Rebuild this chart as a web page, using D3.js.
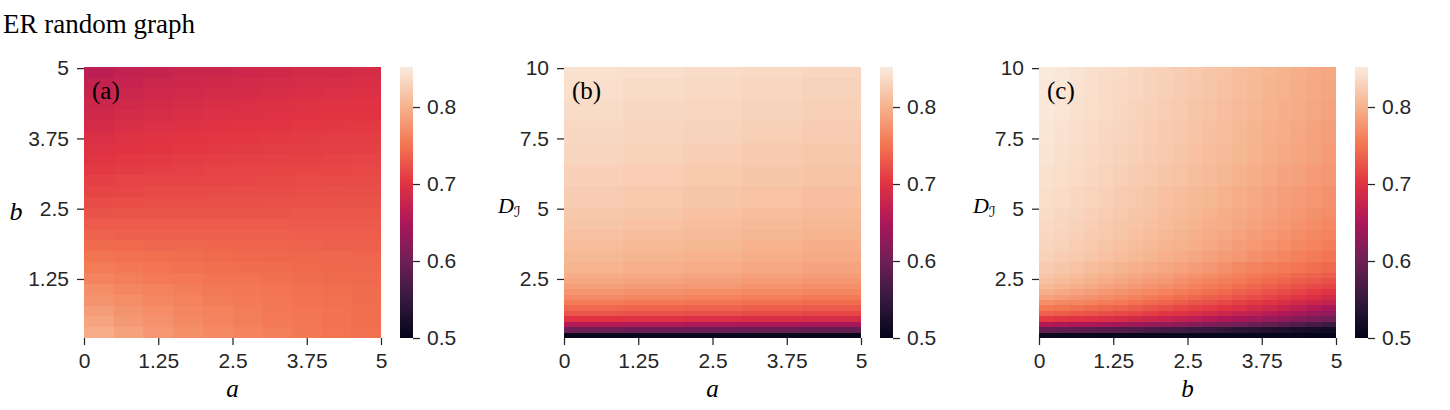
<!DOCTYPE html>
<html><head><meta charset="utf-8">
<script src="https://cdn.jsdelivr.net/npm/d3@7"></script>
<style>body{margin:0;background:#fff;} svg{display:block;}</style>
</head><body><svg id="chart" width="1450" height="410"></svg>
<script>
// ---------------- data ----------------
const title = "ER random graph";
const xTicks = [0, 1.25, 2.5, 3.75, 5];
const bTicks = [1.25, 2.5, 3.75, 5];
const dTicks = [2.5, 5, 7.5, 10];
const cbTicks = [0.5, 0.6, 0.7, 0.8];
const colorRange = [0.5, 0.852];

// cell edges (data units)
const xEdges20 = [0, 0.25, 0.5, 0.75, 1, 1.25, 1.5, 1.75, 2, 2.25, 2.5, 2.75, 3, 3.25, 3.5, 3.75, 4, 4.25, 4.5, 4.75, 5];
const xEdges10 = [0, 0.5, 1, 1.5, 2, 2.5, 3, 3.5, 4, 4.5, 5];
const xEdges5 = [0, 1, 2, 3, 4, 5];
const bEdges = [0.2, 0.393, 0.586, 0.778, 0.971, 1.164, 1.357, 1.55, 1.742, 1.935, 2.128, 2.321, 2.514, 2.706, 2.899, 3.092, 3.285, 3.478, 3.67, 3.863, 4.056, 4.249, 4.442, 4.634, 4.827, 5.02];
const dEdges = [0.4, 0.593, 0.786, 0.978, 1.171, 1.364, 1.557, 1.75, 1.942, 2.135, 2.328, 2.521, 2.714, 3.099, 3.484, 3.87, 4.256, 4.641, 5.027, 5.798, 6.57, 7.341, 8.112, 8.884, 9.655, 10.04];

// (a): rows = b (bottom to top), columns = a
const valuesA = [
 [.796,.786,.778,.772,.767,.762,.758,.754,.750,.747],
 [.789,.780,.774,.768,.763,.759,.755,.752,.749,.746],
 [.783,.776,.770,.765,.761,.757,.754,.751,.749,.746],
 [.776,.770,.765,.761,.757,.755,.752,.749,.747,.745],
 [.770,.765,.761,.757,.754,.752,.750,.748,.746,.744],
 [.763,.759,.755,.753,.750,.749,.747,.745,.743,.742],
 [.756,.753,.750,.748,.746,.745,.744,.742,.741,.740],
 [.750,.748,.746,.745,.743,.742,.741,.741,.740,.739],
 [.743,.742,.740,.740,.739,.738,.738,.737,.736,.736],
 [.737,.736,.736,.736,.735,.735,.735,.734,.734,.734],
 [.731,.731,.731,.731,.731,.731,.731,.731,.731,.731],
 [.725,.726,.726,.726,.727,.727,.727,.728,.728,.728],
 [.720,.721,.722,.722,.723,.723,.724,.724,.725,.725],
 [.715,.716,.718,.718,.719,.720,.720,.721,.722,.722],
 [.711,.713,.714,.715,.716,.717,.718,.719,.719,.720],
 [.706,.708,.710,.711,.713,.714,.715,.715,.716,.717],
 [.702,.704,.706,.708,.709,.710,.711,.712,.713,.714],
 [.697,.700,.702,.704,.705,.707,.708,.709,.710,.711],
 [.694,.697,.699,.701,.703,.704,.706,.707,.708,.709],
 [.689,.692,.695,.697,.699,.701,.702,.704,.705,.706],
 [.684,.688,.690,.693,.695,.696,.698,.699,.701,.702],
 [.680,.684,.687,.690,.692,.694,.696,.697,.699,.700],
 [.675,.679,.683,.685,.688,.689,.691,.693,.695,.696],
 [.671,.675,.679,.682,.684,.686,.688,.690,.691,.693],
 [.665,.670,.674,.677,.679,.682,.684,.686,.687,.690]
];

// (b): rows = D_I (bottom to top), columns = a
const valuesB = [
 [.506,.505,.505,.504,.503],
 [.598,.596,.594,.592,.590],
 [.657,.655,.653,.650,.648],
 [.700,.698,.695,.693,.690],
 [.727,.724,.722,.719,.716],
 [.742,.739,.737,.734,.731],
 [.756,.753,.750,.747,.744],
 [.768,.765,.762,.758,.755],
 [.777,.774,.771,.768,.765],
 [.785,.782,.779,.775,.772],
 [.791,.788,.785,.781,.778],
 [.796,.793,.790,.786,.783],
 [.802,.799,.796,.792,.789],
 [.806,.803,.800,.797,.794],
 [.810,.807,.804,.801,.798],
 [.814,.811,.808,.805,.802],
 [.817,.814,.811,.808,.805],
 [.820,.817,.814,.811,.808],
 [.824,.821,.818,.815,.812],
 [.828,.825,.822,.819,.816],
 [.832,.829,.826,.823,.820],
 [.835,.832,.830,.827,.824],
 [.838,.835,.833,.830,.827],
 [.841,.838,.836,.833,.830],
 [.843,.841,.838,.836,.833]
];

// (c): rows = D_I (bottom to top), columns = b
const valuesC = [
 [.508,.507,.507,.507,.506,.506,.505,.505,.505,.504,.504,.503,.503,.503,.502,.502,.502,.502,.501,.501],
 [.591,.588,.585,.582,.579,.576,.572,.568,.563,.559,.555,.550,.545,.540,.535,.530,.526,.522,.518,.514],
 [.656,.653,.651,.648,.645,.642,.637,.633,.629,.624,.619,.613,.607,.601,.595,.588,.580,.573,.565,.557],
 [.706,.703,.700,.697,.694,.690,.685,.680,.675,.670,.665,.659,.653,.647,.641,.634,.626,.618,.610,.602],
 [.735,.732,.729,.725,.722,.718,.713,.708,.703,.698,.692,.686,.680,.674,.668,.661,.653,.645,.636,.628],
 [.755,.752,.748,.744,.741,.737,.732,.727,.722,.717,.712,.707,.701,.695,.690,.683,.675,.667,.658,.650],
 [.772,.768,.765,.761,.757,.753,.748,.743,.738,.733,.727,.722,.717,.711,.706,.699,.692,.685,.678,.671],
 [.786,.782,.778,.774,.770,.766,.761,.756,.751,.746,.741,.736,.731,.725,.720,.714,.707,.701,.694,.687],
 [.798,.793,.789,.785,.780,.776,.771,.767,.762,.757,.752,.747,.742,.736,.731,.725,.719,.713,.707,.701],
 [.807,.802,.798,.793,.788,.784,.779,.775,.771,.766,.761,.756,.751,.745,.740,.734,.729,.724,.718,.713],
 [.813,.808,.804,.800,.795,.791,.786,.782,.778,.773,.768,.763,.758,.753,.748,.743,.738,.733,.728,.723],
 [.818,.814,.810,.805,.801,.797,.792,.788,.784,.779,.775,.770,.765,.760,.755,.750,.746,.742,.737,.733],
 [.823,.819,.815,.811,.807,.803,.799,.795,.791,.787,.783,.778,.773,.768,.763,.759,.755,.751,.746,.742],
 [.829,.825,.822,.818,.814,.810,.806,.803,.799,.795,.791,.786,.782,.778,.773,.769,.764,.760,.756,.751],
 [.832,.829,.825,.821,.818,.814,.811,.807,.803,.800,.796,.792,.788,.783,.779,.775,.770,.766,.762,.757],
 [.834,.831,.828,.824,.821,.817,.814,.810,.806,.803,.799,.795,.791,.787,.783,.779,.775,.771,.766,.762],
 [.836,.833,.830,.826,.823,.819,.816,.813,.809,.806,.802,.798,.795,.791,.787,.783,.779,.775,.770,.766],
 [.838,.835,.832,.828,.825,.821,.818,.815,.811,.808,.804,.801,.797,.793,.790,.786,.782,.778,.774,.770],
 [.840,.837,.834,.831,.828,.824,.821,.818,.814,.811,.807,.804,.800,.796,.793,.789,.785,.782,.778,.774],
 [.843,.840,.837,.834,.831,.827,.824,.821,.818,.815,.811,.808,.804,.800,.797,.793,.789,.786,.782,.778],
 [.845,.842,.839,.836,.833,.830,.827,.824,.821,.818,.814,.811,.808,.804,.801,.797,.793,.790,.786,.782],
 [.847,.844,.841,.838,.835,.832,.829,.826,.823,.820,.816,.813,.810,.806,.803,.799,.796,.792,.788,.785],
 [.849,.846,.843,.840,.837,.834,.831,.828,.825,.822,.818,.815,.812,.808,.805,.801,.798,.795,.791,.788],
 [.850,.847,.844,.841,.838,.836,.833,.830,.827,.824,.820,.817,.814,.810,.807,.803,.800,.797,.793,.790],
 [.851,.848,.845,.842,.839,.837,.834,.831,.828,.825,.821,.818,.815,.811,.808,.804,.801,.798,.794,.791]
];

// seaborn "rocket" colour map stops
const rocket = ["#03051a","#35193e","#701f57","#ad1759","#e13342","#f37651","#f6b48f","#faebdd"];

// ---------------- drawing ----------------
const svg = d3.select("#chart");
const TOP = 67, BOTTOM = 338, W = 297;
const INK = "#262626";
const SANS = "'Liberation Sans', Arial, sans-serif";
const SERIF = "'Liberation Serif', 'Times New Roman', serif";

const color = d3.scaleLinear()
  .domain(rocket.map((_, i) => colorRange[0] + (colorRange[1] - colorRange[0]) * i / (rocket.length - 1)))
  .range(rocket).interpolate(d3.interpolateRgb).clamp(true);

svg.append("text").attr("x", 3).attr("y", 33)
  .style("font-family", SERIF).style("font-size", "27px").attr("fill", "#000").text(title);

const defs = svg.append("defs");
const grad = defs.append("linearGradient").attr("id", "rocketGrad")
  .attr("x1", 0).attr("y1", 1).attr("x2", 0).attr("y2", 0);
grad.selectAll("stop").data(rocket).join("stop")
  .attr("offset", (d, i) => i / (rocket.length - 1)).attr("stop-color", d => d);

const panels = [
  {label: "(a)", left: 84, xEdges: xEdges10, yEdges: bEdges, yTicks: bTicks, values: valuesA, xLabel: "a", yLabel: "b"},
  {label: "(b)", left: 564, xEdges: xEdges5, yEdges: dEdges, yTicks: dTicks, values: valuesB, xLabel: "a", yLabel: "D"},
  {label: "(c)", left: 1039, xEdges: xEdges20, yEdges: dEdges, yTicks: dTicks, values: valuesC, xLabel: "b", yLabel: "D"}
];

function styleAxis(g) {
  g.select(".domain").remove();
  g.selectAll(".tick line").attr("stroke", INK).attr("stroke-width", 1.25);
  g.selectAll(".tick text").attr("fill", INK).style("font-family", SANS).style("font-size", "21px");
}

panels.forEach(p => {
  const x = d3.scaleLinear().domain([0, 5]).range([p.left, p.left + W]);
  const y = d3.scaleLinear().domain([p.yEdges[0], p.yEdges[p.yEdges.length - 1]]).range([BOTTOM, TOP]);
  const g = svg.append("g");

  const cells = [];
  p.values.forEach((row, j) => row.forEach((v, i) => cells.push({i, j, v})));
  g.append("g").attr("shape-rendering", "crispEdges")
    .selectAll("rect").data(cells).join("rect")
    .attr("x", d => x(p.xEdges[d.i]))
    .attr("width", d => x(p.xEdges[d.i + 1]) - x(p.xEdges[d.i]))
    .attr("y", d => y(p.yEdges[d.j + 1]))
    .attr("height", d => y(p.yEdges[d.j]) - y(p.yEdges[d.j + 1]))
    .attr("fill", d => color(d.v));

  g.append("g").attr("transform", `translate(0,${BOTTOM})`)
    .call(d3.axisBottom(x).tickValues(xTicks).tickSize(7).tickPadding(8).tickFormat(d => String(d)))
    .call(styleAxis);
  g.append("g").attr("transform", `translate(${p.left},0)`)
    .call(d3.axisLeft(y).tickValues(p.yTicks).tickSize(7).tickPadding(8).tickFormat(d => String(d)))
    .call(styleAxis);

  g.append("text").attr("x", p.left + 8).attr("y", 99)
    .style("font-family", SERIF).style("font-size", "25px").attr("fill", "#000").text(p.label);

  g.append("text").attr("x", p.left + W / 2).attr("y", 397).attr("text-anchor", "middle")
    .style("font-family", SERIF).style("font-style", "italic").style("font-size", "25px")
    .attr("fill", "#000").text(p.xLabel);

  if (p.yLabel === "b") {
    g.append("text").attr("x", 16).attr("y", 220).attr("text-anchor", "middle")
      .style("font-family", SERIF).style("font-style", "italic").style("font-size", "26px")
      .attr("fill", "#000").text("b");
  } else {
    const t = g.append("text").attr("x", p.left - 66).attr("y", 213)
      .style("font-family", SERIF).attr("fill", "#000");
    t.append("tspan").style("font-style", "italic").style("font-size", "22px").text("D");
    t.append("tspan").attr("dy", 4).style("font-size", "15px")
      .style("font-family", "'DejaVu Serif', 'DejaVu Sans', serif").style("font-style", "italic").text("ℐ");
  }

  // colour bar
  const cbLeft = p.left + 316, cbW = 13;
  const cy = d3.scaleLinear().domain(colorRange).range([BOTTOM, TOP]);
  g.append("rect").attr("x", cbLeft).attr("y", TOP).attr("width", cbW).attr("height", BOTTOM - TOP)
    .attr("fill", "url(#rocketGrad)");
  g.append("g").attr("transform", `translate(${cbLeft + cbW},0)`)
    .call(d3.axisRight(cy).tickValues(cbTicks).tickSize(7).tickPadding(7).tickFormat(d3.format(".1f")))
    .call(styleAxis);
});
</script></body></html>
